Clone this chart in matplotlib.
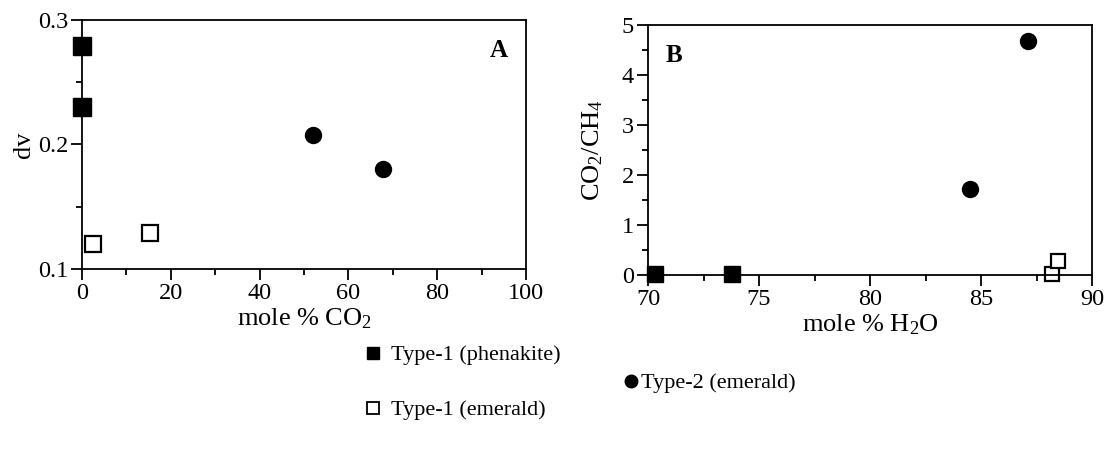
import numpy as np
import matplotlib
matplotlib.use('Agg')
import matplotlib.pyplot as plt
import matplotlib.lines as mlines
from matplotlib.ticker import MultipleLocator, FormatStrFormatter

plt.rcParams['font.family'] = 'Liberation Serif'
plt.rcParams['mathtext.fontset'] = 'custom'
plt.rcParams['mathtext.rm'] = 'Liberation Serif'
plt.rcParams['mathtext.it'] = 'Liberation Serif:italic'

# panel A: mole % CO2 vs dv
a_phen_x = [0, 0]
a_phen_y = [0.279, 0.23]
a_emer1_x = [2.4, 15.3]
a_emer1_y = [0.12, 0.129]
a_emer2_x = [52.0, 67.8]
a_emer2_y = [0.208, 0.18]

# panel B: mole % H2O vs CO2/CH4
b_phen_x = [70.3, 73.8]
b_phen_y = [0.02, 0.02]
b_emer1_x = [88.2, 88.45]
b_emer1_y = [0.03, 0.28]
b_emer2_x = [84.5, 87.1]
b_emer2_y = [1.73, 4.67]

labels = ['Type-1 (phenakite)', 'Type-2 (emerald)', 'Type-1 (emerald)']

tick_fs = 17.5
label_fs = 19
leg_fs = 16

fig = plt.figure(figsize=(11.04, 4.5), dpi=100)
axA = fig.add_axes([82/1104, 1-269/450, 444/1104, 249/450])
axB = fig.add_axes([648/1104, 1-275/450, 444/1104, 250/450])

def style(ax):
    for s in ax.spines.values():
        s.set_linewidth(1.3)
    ax.tick_params(which='major', direction='out', length=8, width=1.3, pad=2, labelsize=tick_fs)
    ax.tick_params(which='minor', direction='out', length=4.5, width=1.3)

# A
axA.plot(a_phen_x, a_phen_y, 's', color='black', ms=13.5, clip_on=False, zorder=5)
axA.plot(a_emer1_x, a_emer1_y, 's', mfc='white', mec='black', mew=1.6, ms=11, clip_on=False)
axA.plot(a_emer2_x, a_emer2_y, 'o', color='black', ms=11.5, clip_on=False)
axA.set_xlim(0, 100)
axA.set_ylim(0.1, 0.3)
axA.xaxis.set_major_locator(MultipleLocator(20))
axA.xaxis.set_minor_locator(MultipleLocator(10))
axA.yaxis.set_major_locator(MultipleLocator(0.1))
axA.yaxis.set_minor_locator(MultipleLocator(0.05))
axA.yaxis.set_major_formatter(FormatStrFormatter('%.1f'))
axA.set_xlabel('mole % CO$_2$', fontsize=label_fs, labelpad=2)
axA.set_ylabel('dv', fontsize=label_fs, labelpad=2)
axA.text(0.96, 0.85, 'A', transform=axA.transAxes, fontsize=18, fontweight='bold', ha='right')
style(axA)

# B
axB.plot(b_phen_x, b_phen_y, 's', color='black', ms=11, clip_on=False, zorder=5)
axB.plot(b_emer1_x, b_emer1_y, 's', mfc='white', mec='black', mew=1.6, ms=9.5, clip_on=False)
axB.plot(b_emer2_x, b_emer2_y, 'o', color='black', ms=11.5, clip_on=False)
axB.set_xlim(70, 90)
axB.set_ylim(0, 5)
axB.xaxis.set_major_locator(MultipleLocator(5))
axB.xaxis.set_minor_locator(MultipleLocator(2.5))
axB.yaxis.set_major_locator(MultipleLocator(1))
axB.yaxis.set_minor_locator(MultipleLocator(0.5))
axB.set_xlabel('mole % H$_2$O', fontsize=label_fs, labelpad=2)
axB.set_ylabel('CO$_2$/CH$_4$', fontsize=label_fs, labelpad=12)
axB.text(0.04, 0.85, 'B', transform=axB.transAxes, fontsize=18, fontweight='bold', ha='left')
style(axB)

# legend entries placed separately
lk = dict(frameon=False, borderpad=0, borderaxespad=0, handlelength=0.8,
          fontsize=leg_fs, loc='center left')
p1 = mlines.Line2D([], [], ls='', marker='s', color='black', ms=8)
p2 = mlines.Line2D([], [], ls='', marker='o', color='black', ms=9)
p3 = mlines.Line2D([], [], ls='', marker='s', mfc='white', mec='black', mew=1.3, ms=8)
fig.legend([p1], [labels[0]], bbox_to_anchor=(364/1104, 1-355/450), handletextpad=0.4, **lk)
fig.legend([p2], [labels[1]], bbox_to_anchor=(622/1104, 1-383/450), handletextpad=0.05, **lk)
fig.legend([p3], [labels[2]], bbox_to_anchor=(364/1104, 1-410/450), handletextpad=0.4, **lk)

fig.savefig('out.png', dpi=100)
